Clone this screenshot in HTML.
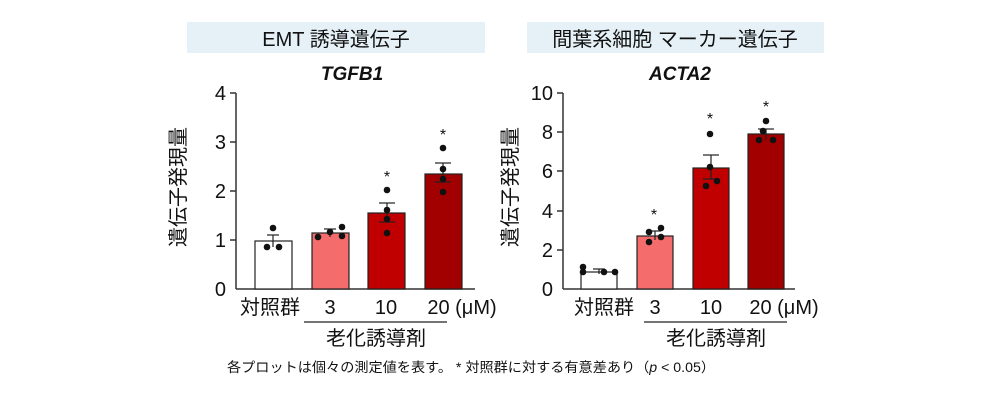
<!DOCTYPE html>
<html><head><meta charset="utf-8"><style>
html,body{margin:0;padding:0;background:#fff;width:1000px;height:401px;overflow:hidden}
svg{display:block}
text{font-family:"Liberation Sans","Noto Sans CJK JP",sans-serif;fill:#111}
</style></head><body>
<svg width="1000" height="401" viewBox="0 0 1000 401" xmlns="http://www.w3.org/2000/svg">
<rect x="187" y="22" width="298" height="31" fill="#e5f1f6"/>
<rect x="527" y="22" width="297" height="31" fill="#e5f1f6"/>
<text x="336" y="46" font-size="20" text-anchor="middle">EMT 誘導遺伝子</text>
<text x="675" y="46" font-size="20" text-anchor="middle">間葉系細胞 マーカー遺伝子</text>
<text x="352" y="80" font-size="19" font-weight="bold" font-style="italic" text-anchor="middle">TGFB1</text>
<text x="680" y="80" font-size="19" font-weight="bold" font-style="italic" text-anchor="middle">ACTA2</text>

<g stroke="#333" stroke-width="1.5" fill="none">
<line x1="236" y1="93" x2="236" y2="289"/>
<line x1="236" y1="289" x2="475" y2="289"/>
<line x1="230" y1="93" x2="236" y2="93"/><line x1="230" y1="142" x2="236" y2="142"/><line x1="230" y1="191" x2="236" y2="191"/><line x1="230" y1="240" x2="236" y2="240"/>
</g>
<g font-size="20" text-anchor="end">
<text x="226" y="100">4</text><text x="226" y="149">3</text><text x="226" y="198">2</text><text x="226" y="247">1</text><text x="226" y="296">0</text>
</g>
<text transform="translate(185,187) rotate(-90)" font-size="20" text-anchor="middle">遺伝子発現量</text>
<g stroke="#222" stroke-width="1.2">
<rect x="255" y="241" width="37" height="48" fill="#fff"/>
<rect x="312" y="233" width="37" height="56" fill="#f56c6c"/>
<rect x="368" y="213" width="37" height="76" fill="#c00000"/>
<rect x="425" y="174" width="37" height="115" fill="#a20000"/>
<g fill="none">
<line x1="273" y1="235" x2="273" y2="247"/><line x1="267" y1="235" x2="279" y2="235"/>
<line x1="330" y1="229" x2="330" y2="237"/><line x1="324" y1="229" x2="336" y2="229"/>
<line x1="387" y1="203" x2="387" y2="222"/><line x1="379" y1="203" x2="395" y2="203"/><line x1="379" y1="222" x2="395" y2="222"/>
<line x1="443" y1="163" x2="443" y2="182"/><line x1="435" y1="163" x2="451" y2="163"/><line x1="435" y1="182" x2="451" y2="182"/>
</g>
</g>
<g fill="#111">
<circle cx="273" cy="228" r="3.3"/><circle cx="267" cy="247" r="3.3"/><circle cx="279" cy="247" r="3.3"/>
<circle cx="318" cy="237" r="3.3"/><circle cx="330" cy="232" r="3.3"/><circle cx="342" cy="227" r="3.3"/><circle cx="342" cy="236" r="3.3"/>
<circle cx="387" cy="190" r="3.3"/><circle cx="387" cy="210" r="3.3"/><circle cx="387" cy="219" r="3.3"/><circle cx="387" cy="233" r="3.3"/>
<circle cx="443" cy="148" r="3.3"/><circle cx="443" cy="169" r="3.3"/><circle cx="443" cy="179" r="3.3"/><circle cx="443" cy="192" r="3.3"/>
</g>
<g font-size="16" text-anchor="middle"><text x="387" y="182">*</text><text x="443" y="140">*</text></g>
<g font-size="20" text-anchor="middle">
<text x="270" y="314">対照群</text><text x="330" y="314">3</text><text x="386" y="314">10</text><text x="462" y="314">20 (μM)</text>
</g>
<line x1="304" y1="322" x2="447" y2="322" stroke="#222" stroke-width="1.2"/>
<text x="376" y="345" font-size="20" text-anchor="middle">老化誘導剤</text>

<g stroke="#333" stroke-width="1.5" fill="none">
<line x1="563" y1="93" x2="563" y2="289"/>
<line x1="563" y1="289" x2="795" y2="289"/>
<line x1="557" y1="93" x2="563" y2="93"/><line x1="557" y1="132" x2="563" y2="132"/><line x1="557" y1="171" x2="563" y2="171"/><line x1="557" y1="211" x2="563" y2="211"/><line x1="557" y1="250" x2="563" y2="250"/>
</g>
<g font-size="20" text-anchor="end">
<text x="553" y="100">10</text><text x="553" y="139">8</text><text x="553" y="178">6</text><text x="553" y="218">4</text><text x="553" y="257">2</text><text x="553" y="296">0</text>
</g>
<text transform="translate(517,187) rotate(-90)" font-size="20" text-anchor="middle">遺伝子発現量</text>
<g stroke="#222" stroke-width="1.2">
<rect x="581" y="272" width="36" height="17" fill="#fff"/>
<rect x="637" y="236" width="36" height="53" fill="#f56c6c"/>
<rect x="693" y="168" width="36" height="121" fill="#c00000"/>
<rect x="748" y="134" width="36" height="155" fill="#a20000"/>
<g fill="none">
<line x1="599" y1="269" x2="599" y2="274"/><line x1="593" y1="269" x2="605" y2="269"/>
<line x1="655" y1="231" x2="655" y2="240"/><line x1="649" y1="231" x2="661" y2="231"/>
<line x1="711" y1="155" x2="711" y2="179"/><line x1="703" y1="155" x2="719" y2="155"/><line x1="703" y1="179" x2="719" y2="179"/>
<line x1="766" y1="129" x2="766" y2="140"/><line x1="758" y1="129" x2="774" y2="129"/>
</g>
</g>
<g fill="#111">
<circle cx="583" cy="267" r="3.3"/><circle cx="583" cy="272" r="3.3"/><circle cx="604" cy="272" r="3.3"/><circle cx="615" cy="272" r="3.3"/>
<circle cx="649" cy="242" r="3.3"/><circle cx="649" cy="232" r="3.3"/><circle cx="661" cy="228" r="3.3"/><circle cx="661" cy="237" r="3.3"/>
<circle cx="710" cy="134" r="3.3"/><circle cx="710" cy="167" r="3.3"/><circle cx="706" cy="186" r="3.3"/><circle cx="717" cy="181" r="3.3"/>
<circle cx="766" cy="121" r="3.3"/><circle cx="763" cy="131" r="3.3"/><circle cx="759" cy="140" r="3.3"/><circle cx="773" cy="140" r="3.3"/>
</g>
<g font-size="16" text-anchor="middle"><text x="654" y="220">*</text><text x="710" y="124">*</text><text x="766" y="112">*</text></g>
<g font-size="20" text-anchor="middle">
<text x="604" y="314">対照群</text><text x="655" y="314">3</text><text x="711" y="314">10</text><text x="784" y="314">20 (μM)</text>
</g>
<line x1="644" y1="322" x2="787" y2="322" stroke="#222" stroke-width="1.2"/>
<text x="716" y="345" font-size="20" text-anchor="middle">老化誘導剤</text>

<text x="227" y="372" font-size="13.5" textLength="488" lengthAdjust="spacingAndGlyphs">各プロットは個々の測定値を表す。 * 対照群に対する有意差あり（<tspan font-style="italic">p</tspan> &lt; 0.05）</text>
</svg>
</body></html>
